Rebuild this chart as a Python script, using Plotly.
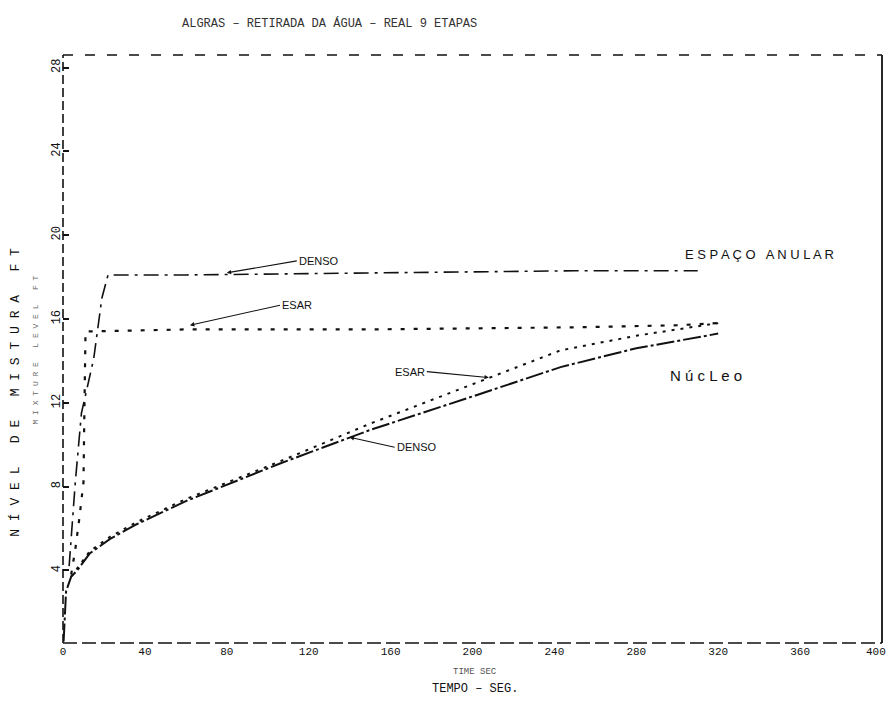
import plotly.graph_objects as go

# ---- data ----
time_denso_anular = [3, 6, 9, 15, 19, 22, 60, 150, 250, 310]
nivel_denso_anular = [4.2, 8.2, 11.5, 14.1, 17.0, 18.1, 18.1, 18.2, 18.3, 18.3]

time_esar_anular = [4, 6, 8, 10, 10.5, 11, 60, 150, 250, 300, 320]
nivel_esar_anular = [3.8, 5.0, 6.5, 8.2, 12.0, 15.4, 15.5, 15.5, 15.6, 15.7, 15.8]

time_nucleo_denso = [0.3, 1.5, 4, 7, 13, 23, 36, 60, 106, 150, 200, 243, 280, 320]
nivel_nucleo_denso = [0.6, 3.0, 3.7, 4.0, 4.8, 5.5, 6.2, 7.3, 9.1, 10.7, 12.3, 13.7, 14.6, 15.3]

time_nucleo_esar = [4, 7, 13, 23, 36, 60, 106, 150, 200, 243, 280, 320]
nivel_nucleo_esar = [3.7, 4.1, 4.9, 5.6, 6.3, 7.4, 9.2, 11.0, 12.9, 14.5, 15.2, 15.8]

x_ticks = [0, 40, 80, 120, 160, 200, 240, 280, 320, 360]
x_last_tick = 400
y_ticks = [4, 8, 12, 16, 20, 24, 28]

INK = "#111111"
MONO = "Liberation Mono, DejaVu Sans Mono, monospace"

fig = go.Figure()

fig.add_trace(go.Scatter(x=time_denso_anular, y=nivel_denso_anular, mode="lines",
                         line=dict(color=INK, width=1.6, dash="longdashdot"),
                         name="DENSO - espaço anular", showlegend=False))
fig.add_trace(go.Scatter(x=time_esar_anular, y=nivel_esar_anular, mode="lines",
                         line=dict(color=INK, width=2.2, dash="4px,9px"),
                         name="ESAR - espaço anular", showlegend=False))
fig.add_trace(go.Scatter(x=time_nucleo_denso, y=nivel_nucleo_denso, mode="lines",
                         line=dict(color=INK, width=2.0, dash="18px,3px,3px,3px"),
                         name="DENSO - núcleo", showlegend=False))
fig.add_trace(go.Scatter(x=time_nucleo_esar, y=nivel_nucleo_esar, mode="lines",
                         line=dict(color=INK, width=2.0, dash="3px,6px"),
                         name="ESAR - núcleo", showlegend=False))

# frame (hand-plotted look)
frame = [
    dict(x0=0, x1=0, y0=0, y1=1, dash="9px,4px", width=1.6),   # left
    dict(x0=0, x1=1, y0=0, y1=0, dash="14px,5px", width=1.6),  # bottom
    dict(x0=0, x1=1, y0=1, y1=1, dash="10px,12px", width=1.4), # top
    dict(x0=1, x1=1, y0=0, y1=1, dash="solid", width=1.8),     # right
]
for f in frame:
    fig.add_shape(type="line", xref="paper", yref="paper",
                  x0=f["x0"], x1=f["x1"], y0=f["y0"], y1=f["y1"],
                  line=dict(color=INK, width=f["width"], dash=f["dash"]))

hand = dict(family="Liberation Sans, Arial, sans-serif", size=13, color=INK)
arrow = dict(arrowhead=2, arrowsize=0.8, arrowwidth=1.1, arrowcolor=INK, standoff=0)

annotations = [
    # curve labels
    dict(x=340, y=19.1, xref="x", yref="y", text="E S P A Ç O   A N U L A R",
         showarrow=False, font=hand, xanchor="center", yanchor="middle"),
    dict(x=314, y=13.3, xref="x", yref="y", text="N ú c L e o",
         showarrow=False, font=dict(hand, size=15), xanchor="center", yanchor="middle"),
    dict(x=80, y=18.2, xref="x", yref="y", text="DENSO", showarrow=True,
         ax=70, ay=-12, xanchor="left", yanchor="middle",
         font=dict(hand, size=11), **arrow),
    dict(x=62, y=15.7, xref="x", yref="y", text="ESAR", showarrow=True,
         ax=90, ay=-20, xanchor="left", yanchor="middle",
         font=dict(hand, size=11), **arrow),
    dict(x=208, y=13.2, xref="x", yref="y", text="ESAR", showarrow=True,
         ax=-62, ay=-6, xanchor="right", yanchor="middle",
         font=dict(hand, size=11), **arrow),
    dict(x=140, y=10.35, xref="x", yref="y", text="DENSO", showarrow=True,
         ax=45, ay=10, xanchor="left", yanchor="middle",
         font=dict(hand, size=11), **arrow),
    # last x tick label (kept inside the page edge)
    dict(x=x_last_tick, y=0, xref="x", yref="paper", text=str(x_last_tick),
         xanchor="right", yanchor="top", xshift=6, yshift=-1, showarrow=False,
         font=dict(family=MONO, size=11, color=INK)),
    # titles
    dict(x=0.326, y=1.053, xref="paper", yref="paper",
         text="ALGRAS – RETIRADA DA ÁGUA – REAL 9 ETAPAS",
         xanchor="center", yanchor="middle",
         showarrow=False, font=dict(family=MONO, size=12, color="#333333")),
    dict(x=201, y=-0.0493, xref="x", yref="paper", text="TIME SEC",
         xanchor="center", yanchor="middle",
         showarrow=False, font=dict(family=MONO, size=9, color="#555555")),
    dict(x=201, y=-0.078, xref="x", yref="paper", text="TEMPO – SEG.",
         xanchor="center", yanchor="middle",
         showarrow=False, font=dict(family=MONO, size=12, color=INK)),
    dict(x=-0.058, y=12.5, xref="paper", yref="y",
         text="N Í V E L   D E   M I S T U R A   F T",
         xanchor="center", yanchor="middle",
         textangle=-90, showarrow=False, font=dict(family=MONO, size=13, color=INK)),
    dict(x=-0.034, y=14.5, xref="paper", yref="y",
         text="M I X T U R E   L E V E L   F T",
         xanchor="center", yanchor="middle",
         textangle=-90, showarrow=False, font=dict(family=MONO, size=8, color="#666666")),
]

fig.update_layout(
    width=890, height=706, autosize=False,
    margin=dict(l=63, r=8, t=55, b=63),
    paper_bgcolor="white", plot_bgcolor="white",
    showlegend=False,
    annotations=annotations,
    xaxis=dict(range=[0, 400], tickvals=x_ticks, ticktext=[str(v) for v in x_ticks],
               showgrid=False, zeroline=False, showline=False, ticks="",
               tickfont=dict(family=MONO, size=11, color=INK)),
    yaxis=dict(range=[0.53, 28.6], tickvals=y_ticks, ticktext=[str(v) for v in y_ticks],
               tickangle=-90, showgrid=False, zeroline=False, showline=False,
               ticks="inside", ticklen=6, tickcolor=INK, tickwidth=1.5,
               tickfont=dict(family=MONO, size=12, color=INK)),
)

fig.write_html("out.html")
